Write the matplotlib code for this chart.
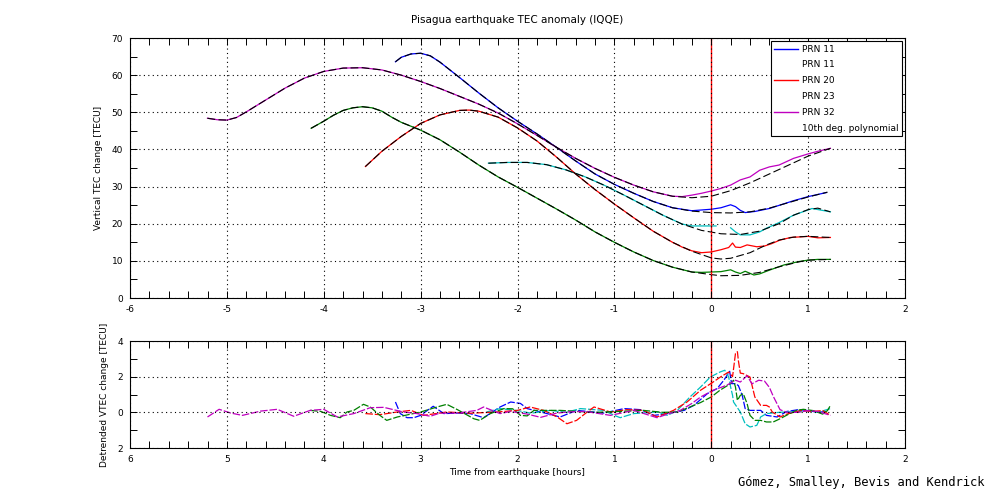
import numpy as np
import matplotlib
matplotlib.use("Agg")
import matplotlib.pyplot as plt
from matplotlib.lines import Line2D
from matplotlib.ticker import MultipleLocator

nan = np.nan

# ---- top panel: 10th degree polynomial fits (black) ----
poly_m_x = [-5.2, -5.1, -5.0, -4.9, -4.8, -4.6, -4.4, -4.2, -4.0, -3.8, -3.6, -3.4, -3.2, -3.0, -2.8, -2.6, -2.4,
            -2.2, -2.0, -1.8, -1.6, -1.4, -1.2, -1.0, -0.8, -0.6, -0.4, -0.2, 0.0, 0.2, 0.4, 0.6, 0.8, 1.0, 1.23]
poly_m_y = [48.4, 48.0, 47.9, 48.6, 50.1, 53.3, 56.5, 59.2, 61.0, 61.9, 62.0, 61.4, 60.0, 58.3, 56.4, 54.3, 52.2,
            49.8, 46.9, 43.8, 40.6, 37.6, 34.9, 32.5, 30.4, 28.6, 27.4, 27.0, 27.4, 28.9, 31.0, 33.4, 35.8, 38.2, 40.3]
poly_b_x = [-3.26, -3.2, -3.1, -3.0, -2.9, -2.8, -2.6, -2.4, -2.2, -2.0, -1.8, -1.6, -1.4, -1.2, -1.0, -0.8, -0.6,
            -0.4, -0.2, 0.0, 0.2, 0.4, 0.6, 0.8, 1.0, 1.2]
poly_b_y = [63.6, 64.8, 65.7, 65.9, 65.2, 63.5, 59.4, 55.2, 51.2, 47.6, 44.2, 40.6, 36.9, 33.4, 30.6, 28.2, 26.0,
            24.3, 23.4, 23.0, 22.9, 23.2, 24.2, 25.7, 27.2, 28.5]
poly_r_x = [-3.57, -3.4, -3.2, -3.0, -2.8, -2.6, -2.5, -2.4, -2.2, -2.0, -1.8, -1.6, -1.4, -1.2, -1.0, -0.8, -0.6,
            -0.4, -0.2, 0.0, 0.1, 0.2, 0.4, 0.57, 0.7, 0.85, 1.0, 1.23]
poly_r_y = [35.4, 39.5, 43.5, 47.0, 49.3, 50.5, 50.6, 50.3, 48.7, 45.8, 42.3, 38.0, 33.4, 29.2, 25.3, 21.6, 18.0,
            15.0, 12.6, 10.8, 10.5, 10.7, 12.2, 14.3, 15.6, 16.4, 16.6, 16.3]
poly_g_x = [-4.13, -4.0, -3.9, -3.8, -3.7, -3.6, -3.5, -3.4, -3.3, -3.2, -3.0, -2.8, -2.6, -2.4, -2.2, -2.0, -1.8,
            -1.6, -1.4, -1.2, -1.0, -0.8, -0.6, -0.4, -0.2, 0.0, 0.1, 0.3, 0.5, 0.7, 0.9, 1.0, 1.23]
poly_g_y = [45.7, 47.6, 49.2, 50.5, 51.2, 51.5, 51.2, 50.3, 48.7, 47.3, 45.2, 42.6, 39.3, 35.8, 32.6, 29.8, 26.9,
            24.0, 21.0, 17.8, 15.0, 12.4, 10.1, 8.3, 7.0, 6.3, 6.0, 6.1, 6.9, 8.4, 9.7, 10.2, 10.4]
poly_c_x = [-2.3, -2.1, -1.9, -1.7, -1.5, -1.3, -1.1, -0.9, -0.7, -0.5, -0.3, -0.1, 0.1, 0.3, 0.5, 0.7, 0.85,
            1.0, 1.1, 1.23]
poly_c_y = [36.3, 36.5, 36.5, 35.9, 34.5, 32.6, 30.3, 27.7, 25.0, 22.3, 19.9, 18.2, 17.3, 17.1, 18.0, 20.0, 22.3,
            23.8, 24.2, 23.2]

# ---- top panel: measured VTEC where it leaves the fit (around the quake) ----
meas_m_x = [-0.3, -0.2, -0.1, 0.0, 0.1, 0.2, 0.3, 0.4, 0.5, 0.6, 0.7, 0.85, 1.0, 1.1, 1.23]
meas_m_y = [27.3, 27.7, 28.2, 28.8, 29.5, 30.4, 31.8, 32.6, 34.4, 35.3, 35.8, 37.6, 38.8, 39.5, 40.3]
meas_b_x = [-0.2, -0.1, 0.0, 0.1, 0.15, 0.2, 0.25, 0.3, 0.35, 0.45, 0.6, 0.85, 1.0, 1.19]
meas_b_y = [23.5, 23.7, 23.9, 24.3, 24.7, 25.1, 24.6, 23.6, 23.0, 23.3, 24.1, 26.2, 27.3, 28.4]
meas_r_x = [-0.3, -0.2, -0.1, 0.0, 0.1, 0.18, 0.22, 0.25, 0.3, 0.37, 0.47, 0.55, 0.62, 0.71, 0.82, 1.0, 1.1, 1.23]
meas_r_y = [13.7, 12.7, 12.2, 12.4, 13.0, 13.6, 14.8, 13.7, 13.6, 14.3, 13.8, 14.0, 14.6, 15.6, 16.3, 16.6, 16.2, 16.3]
meas_g_x = [-0.2, -0.1, 0.0, 0.1, 0.2, 0.25, 0.3, 0.35, 0.44, 0.5, 0.6, 0.75, 0.9, 1.0, 1.1, 1.23]
meas_g_y = [7.0, 6.9, 7.0, 7.1, 7.6, 7.0, 6.6, 7.2, 6.2, 6.5, 7.5, 8.9, 9.8, 10.2, 10.4, 10.4]
meas_c_x = [-0.3, -0.2, -0.1, 0.0, 0.05, nan, 0.2, 0.25, 0.3, 0.4, 0.5, 0.57, 0.7, 0.85, 1.04, 1.23]
meas_c_y = [19.9, 19.4, 19.4, 19.4, 19.4, nan, 18.9, 17.8, 17.0, 17.0, 17.8, 18.8, 20.3, 22.3, 24.1, 23.2]

# ---- bottom panel: detrended VTEC ----
det_m_x = [-5.2, -5.08, -4.96, -4.84, -4.65, -4.48, -4.31, -4.14, -4.0, -3.86, -3.69, -3.52, -3.38, -3.18, -3.04,
           -2.9, -2.8, -2.62, -2.42, -2.35, -2.18, -2.07, -1.9, -1.76, -1.6, -1.49, -1.3, -1.04, -0.8, -0.56, -0.45,
           -0.32, -0.2, -0.11, 0.02, 0.16, 0.25, 0.30, 0.37, 0.42, 0.49, 0.55, 0.6, 0.64, 0.71, 0.78, 0.9, 1.0, 1.1,
           1.23]
det_m_y = [-0.26, 0.17, -0.04, -0.17, 0.07, 0.17, -0.22, 0.11, 0.17, -0.26, -0.07, 0.26, 0.28, 0.02, -0.07,
           -0.22, -0.04, -0.04, 0.11, 0.30, -0.07, 0.05, -0.1, -0.28, -0.05, 0.02, 0.05, -0.17, 0.11, -0.30, -0.1,
           0.11, 0.5, 0.86, 1.24, 1.52, 1.8, 1.7, 2.05, 1.6, 1.8, 1.75, 1.4, 0.9, 0.15, 0.0, 0.0, 0.1, 0.05, -0.17]
det_r_x = [-3.57, -3.42, -3.24, -3.1, -2.97, -2.73, -2.49, -2.21, -2.0, -1.87, -1.73, -1.59, -1.49, -1.39, -1.28,
           -1.21, -1.04, -0.87, -0.7, -0.56, -0.39, -0.25, -0.11, 0.02, 0.1, 0.18, 0.22, 0.25, 0.27, 0.28, 0.30,
           0.33, 0.40, 0.45, 0.51, 0.57, 0.6, 0.63, 0.71, 0.78, 0.92, 1.05, 1.15, 1.23]
det_r_y = [-0.07, -0.13, 0.02, 0.11, -0.17, 0.02, -0.05, 0.02, 0.11, 0.30, 0.11, -0.26, -0.64, -0.45, 0.02,
           0.30, 0.02, 0.15, 0.11, -0.26, 0.11, 0.58, 1.24, 1.70, 2.0, 2.26, 2.0, 3.3, 3.4, 2.9, 2.2,
           2.17, 1.98, 0.86, 0.39, 0.39, 0.30, 0.02, -0.26, -0.1, 0.1, 0.05, 0.1, -0.17]
det_b_x = [-3.26, -3.21, -3.14, -3.07, -3.0, -2.93, -2.87, -2.76, -2.62, -2.49, -2.35, -2.18, -2.07, -1.97, -1.9,
           -1.76, -1.56, -1.39, -1.11, -0.9, -0.73, -0.59, -0.45, -0.28, -0.18, -0.04, 0.06, 0.13, 0.19, 0.21, 0.25,
           0.28, 0.32, 0.35, 0.40, 0.51, 0.57, 0.68, 0.78, 0.9, 1.0, 1.1, 1.19]
det_b_y = [0.58, -0.07, -0.30, -0.30, -0.17, 0.11, 0.34, -0.07, -0.04, -0.07, -0.30, 0.30, 0.58, 0.5, 0.21,
           0.02, -0.26, 0.11, -0.04, 0.21, 0.15, -0.17, -0.07, 0.11, 0.39, 1.05, 1.33, 1.80, 2.3, 1.61, 1.61,
           1.5, 0.95, 0.21, 0.11, 0.11, -0.17, -0.26, 0.05, 0.15, 0.1, 0.0, 0.05]
det_c_x = [-2.32, -2.18, -2.0, -1.86, -1.66, -1.5, -1.35, -1.11, -1.0, -0.94, -0.8, -0.56, -0.45, -0.35, -0.22,
           -0.11, -0.01, 0.09, 0.14, 0.18, 0.2, 0.22, 0.23, 0.30, 0.35, 0.40, 0.47, 0.51, 0.57, 0.7, 0.9, 1.0, 1.1,
           1.23]
det_c_y = [0.02, 0.21, 0.1, -0.05, 0.11, 0.0, 0.21, 0.11, -0.17, -0.30, -0.07, 0.02, -0.17, 0.11, 0.86,
           1.42, 1.98, 2.26, 2.36, 1.98, 1.42, 0.95, 0.58, 0.02, -0.64, -0.82, -0.73, -0.26, -0.07, 0.0, 0.05, 0.1,
           0.0, 0.21]
det_g_x = [-4.14, -4.03, -3.93, -3.83, -3.76, -3.69, -3.59, -3.52, -3.42, -3.35, -3.24, -3.1, -3.0, -2.83, -2.73,
           -2.62, -2.45, -2.39, -2.28, -2.14, -2.05, -1.97, -1.9, -1.83, -1.56, -1.2, -0.95, -0.7, -0.5, -0.35,
           -0.22, -0.11, 0.0, 0.09, 0.2, 0.23, 0.25, 0.27, 0.30, 0.33, 0.37, 0.40, 0.45, 0.51, 0.57, 0.64, 0.71,
           0.8, 0.88, 0.95, 1.05, 1.15, 1.2, 1.23]
det_g_y = [0.11, 0.05, -0.17, -0.30, 0.02, 0.11, 0.45, 0.3, -0.17, -0.45, -0.26, -0.1, 0.02, 0.30, 0.45,
           0.15, -0.36, -0.45, -0.07, 0.21, 0.2, -0.17, -0.2, 0.11, 0.11, 0.0, 0.05, 0.11, 0.0, 0.02,
           0.30, 0.55, 0.86, 1.24, 1.61, 1.80, 1.42, 0.67, 0.95, 1.05, 0.49, -0.17, -0.45, -0.45, -0.54, -0.54, -0.36,
           -0.1, 0.11, 0.17, 0.1, -0.1, 0.1, 0.39]

legend_labels = ["PRN 11", "PRN 11", "PRN 20", "PRN 23", "PRN 32", "10th deg. polynomial"]
top_xticklabels = ["-6", "-5", "-4", "-3", "-2", "-1", "0", "1", "2"]
bot_xticklabels = ["6", "5", "4", "3", "2", "1", "0", "1", "2"]
bot_yticklabels = ["2", "0", "2", "4"]

BLUE, GREEN, RED, CYAN, MAGENTA = "#0000ff", "#008000", "#ff0000", "#00bfbf", "#bf00bf"
FS = 6.5

fig = plt.figure(figsize=(10, 5.04), dpi=100)
ax1 = fig.add_axes([0.13, 0.4087, 0.775, 0.5159])
ax2 = fig.add_axes([0.13, 0.1111, 0.775, 0.2123])


def style(ax):
    ax.tick_params(which="both", direction="in", top=True, right=True, length=5, width=0.7,
                   labelsize=FS, pad=5)
    for s in ax.spines.values():
        s.set_linewidth(0.8)
    ax.grid(True, which="major", color="black", linestyle=(0, (1, 3)), linewidth=0.8)
    ax.set_axisbelow(False)


# top panel
series = [
    (poly_b_x, poly_b_y, meas_b_x, meas_b_y, BLUE),
    (poly_c_x, poly_c_y, meas_c_x, meas_c_y, CYAN),
    (poly_r_x, poly_r_y, meas_r_x, meas_r_y, RED),
    (poly_g_x, poly_g_y, meas_g_x, meas_g_y, GREEN),
    (poly_m_x, poly_m_y, meas_m_x, meas_m_y, MAGENTA),
]
for px, py, mx, my, col in series:
    px = np.array(px)
    pre = px < mx[0]
    x = np.concatenate([px[pre], mx])
    y = np.concatenate([np.array(py)[pre], my])
    ax1.plot(x, y, color=col, lw=0.9)
for px, py, mx, my, col in series:
    ax1.plot(px, py, color="black", lw=0.8, linestyle=(0, (7, 3)))

ax1.axvline(0, color=RED, lw=1)
ax1.set_xlim(-6, 2)
ax1.set_ylim(0, 70)
ax1.xaxis.set_major_locator(MultipleLocator(1))
ax1.xaxis.set_minor_locator(MultipleLocator(0.2))
ax1.yaxis.set_major_locator(MultipleLocator(10))
ax1.yaxis.set_minor_locator(MultipleLocator(5))
ax1.set_xticks(np.arange(-6, 3))
ax1.set_xticklabels(top_xticklabels)
style(ax1)
ax1.set_title("Pisagua earthquake TEC anomaly (IQQE)", fontsize=7.5, pad=11)
ax1.set_ylabel("Vertical TEC change [TECU]", fontsize=FS, labelpad=6)

handles = [
    Line2D([], [], color=BLUE, lw=1),
    Line2D([], [], color="none", lw=1),
    Line2D([], [], color=RED, lw=1),
    Line2D([], [], color="none", lw=1),
    Line2D([], [], color=MAGENTA, lw=1),
    Line2D([], [], color="none", lw=1),
]
leg = ax1.legend(handles, legend_labels, loc="upper right", bbox_to_anchor=(0.999, 0.995), fontsize=FS,
                 frameon=True, fancybox=False, edgecolor="black", framealpha=1, handlelength=2.6,
                 borderpad=0.4, labelspacing=0.75, handletextpad=0.5, borderaxespad=0.2)
leg.get_frame().set_linewidth(0.8)

# bottom panel
for x, y, col in [(det_b_x, det_b_y, BLUE), (det_c_x, det_c_y, CYAN), (det_r_x, det_r_y, RED),
                  (det_g_x, det_g_y, GREEN), (det_m_x, det_m_y, MAGENTA)]:
    ax2.plot(x, y, color=col, lw=0.9, linestyle=(0, (6, 1.5)))
ax2.axvline(0, color=RED, lw=1)
ax2.set_xlim(-6, 2)
ax2.set_ylim(-2, 4)
ax2.set_xticks(np.arange(-6, 3))
ax2.set_xticklabels(bot_xticklabels)
ax2.xaxis.set_minor_locator(MultipleLocator(0.2))
ax2.set_yticks([-2, 0, 2, 4])
ax2.set_yticklabels(bot_yticklabels)
ax2.yaxis.set_minor_locator(MultipleLocator(1))
style(ax2)
ax2.set_ylabel("Detrended VTEC change [TECU]", fontsize=FS, labelpad=6)
ax2.set_xlabel("Time from earthquake [hours]", fontsize=FS, labelpad=3)

fig.text(0.985, 0.042, "Gómez, Smalley, Bevis and Kendrick", ha="right", va="center",
         fontsize=8.7, family="DejaVu Sans Mono")

fig.savefig("out.png", dpi=100)
